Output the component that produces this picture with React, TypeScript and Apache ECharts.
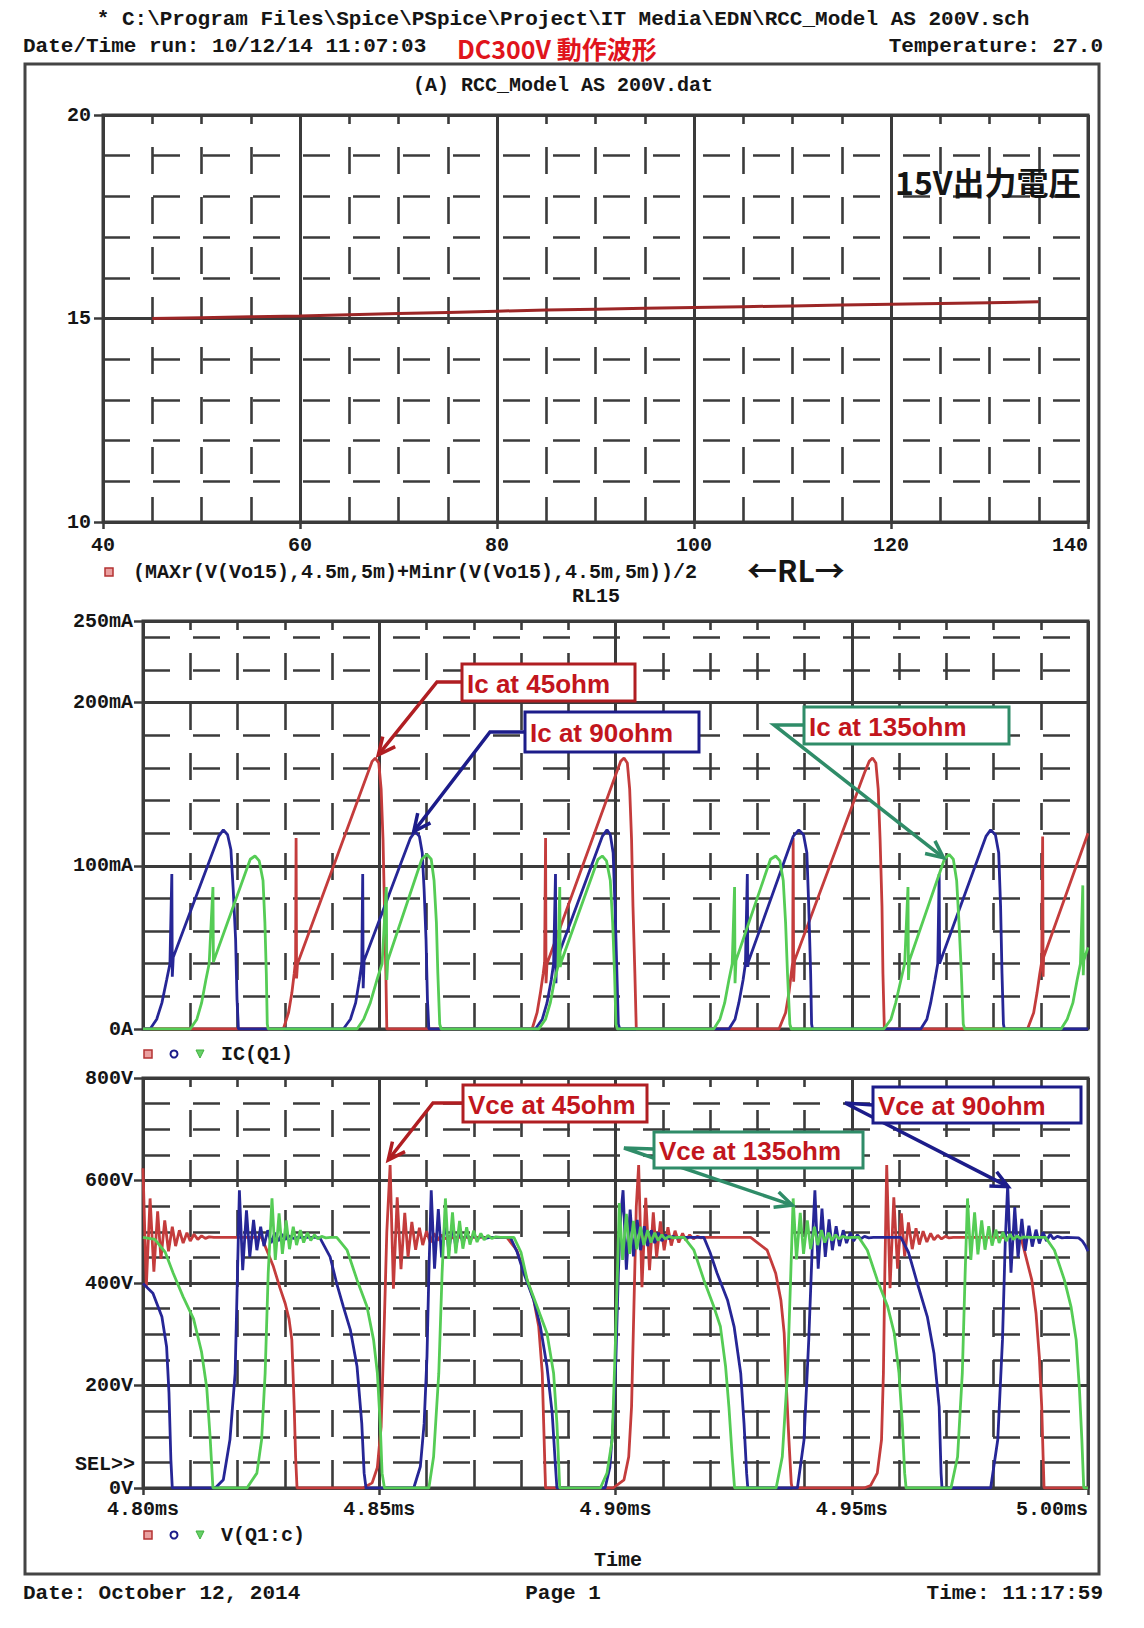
import React, { useEffect, useRef } from "react";
import * as echarts from "echarts";

// ---------------- DATA ----------------
// Panel (A): average 15 V output vs load RL15 (ohm)
const RL15_OHM = [45, 50, 55, 60, 65, 70, 75, 80, 85, 90, 95, 100, 105, 110, 115, 120, 125, 130, 135];
const VO15_AVG = [15.0, 15.02, 15.04, 15.06, 15.09, 15.12, 15.15, 15.18, 15.21, 15.23, 15.25, 15.27, 15.29, 15.31, 15.33, 15.35, 15.37, 15.39, 15.41];

// Tick labels
const RL_X_TICKS = [40, 60, 80, 100, 120, 140];
const RL_X_LABELS = ["40", "60", "80", "100", "120", "140"];
const VO_Y_TICKS = [10, 15, 20];
const VO_Y_LABELS = ["10", "15", "20"];
const IC_Y_TICKS = [0, 100, 200, 250];
const IC_Y_LABELS = ["0A", "100mA", "200mA", "250mA"];
const VCE_Y_TICKS = [0, 200, 400, 600, 800];
const VCE_Y_LABELS = ["0V", "200V", "400V", "600V", "800V"];
// time in microseconds after 4.80 ms
const TIME_X_TICKS = [0, 50, 100, 150, 200];
const TIME_X_LABELS = ["4.80ms", "4.85ms", "4.90ms", "4.95ms", "5.00ms"];

// IC(Q1) [time us after 4.80ms, mA]
const IC_45OHM = [
  [0, 0], [29.7, 0], [30.8, 10], [31.5, 22], [32.0, 34], [32.3, 42], [32.4, 117], [32.5, 31], [32.7, 40], [47.6, 157], [48.5, 164], [49.15, 166], [49.9, 163], [50.4, 147], [50.8, 116], [51.1, 75], [51.4, 34], [51.6, 0],
  [82.35, 0], [83.4, 10], [84.1, 22], [84.7, 34], [85.0, 41], [85.2, 117], [85.3, 28], [85.5, 40], [100.2, 157], [101.1, 164], [101.8, 166], [102.5, 163], [103.0, 147], [103.4, 116], [103.7, 75], [104.1, 34], [104.4, 0],
  [134.6, 0], [136.0, 10], [136.7, 22], [137.2, 34], [137.5, 41], [137.6, 117], [137.7, 29], [137.9, 42], [152.7, 157], [153.7, 164], [154.4, 166], [155.1, 163], [155.6, 147], [156.0, 116], [156.4, 75], [156.6, 34], [156.9, 0],
  [187.2, 0], [188.5, 10], [189.2, 22], [189.8, 34], [190.2, 41], [190.4, 118], [190.5, 32], [190.6, 44], [200, 120],
];
const IC_90OHM = [
  [0, 0], [1.5, 0], [2.9, 6], [4.0, 16], [5.0, 30], [5.7, 40], [6.1, 95], [6.2, 32], [6.4, 44], [16.0, 118], [17.0, 122], [17.9, 119], [18.6, 110], [19.1, 85], [19.6, 55], [19.9, 18], [20.2, 0],
  [42.4, 0], [43.9, 6], [45.0, 16], [45.8, 30], [46.3, 40], [46.5, 95], [46.6, 25], [46.8, 42], [56.6, 117], [57.6, 121], [58.5, 118], [59.1, 108], [59.5, 85], [59.9, 55], [60.2, 18], [60.5, 0],
  [83.05, 0], [84.5, 6], [85.5, 16], [86.4, 30], [86.9, 40], [87.3, 95], [87.4, 28], [87.5, 42], [97.2, 118], [98.2, 122], [98.9, 119], [99.5, 108], [99.9, 75], [100.3, 34], [100.6, 3], [100.9, 0],
  [124.0, 0], [125.3, 6], [126.1, 16], [127.0, 30], [127.5, 40], [127.9, 95], [128.0, 38], [128.1, 41], [137.6, 118], [138.8, 122], [139.8, 119], [140.5, 108], [140.9, 75], [141.3, 34], [141.5, 3], [141.7, 0],
  [164.6, 0], [165.9, 6], [166.7, 16], [167.6, 30], [168.2, 40], [168.5, 95], [168.6, 40], [168.7, 41], [178.4, 118], [179.4, 122], [180.4, 119], [181.1, 108], [181.5, 75], [181.8, 34], [182.1, 3], [182.3, 0], [200, 0],
];
const IC_135OHM = [
  [0, 0], [10.0, 0], [11.4, 6], [12.4, 16], [13.3, 30], [14.0, 40], [14.8, 87], [14.9, 41], [15.0, 42], [22.7, 104], [23.7, 106], [24.6, 103], [25.4, 91], [25.8, 65], [26.1, 34], [26.3, 3], [26.5, 0],
  [45.3, 0], [46.7, 6], [48.1, 16], [49.5, 30], [50.6, 40], [51.5, 87], [51.6, 30], [51.8, 42], [59.0, 104], [60.1, 107], [61.0, 104], [61.6, 91], [62.1, 65], [62.4, 34], [62.8, 3], [63.1, 0],
  [83.75, 0], [85.2, 6], [86.2, 16], [87.1, 30], [87.8, 38], [88.2, 87], [88.3, 38], [88.5, 41], [96.3, 104], [97.2, 106], [98.1, 103], [98.9, 91], [99.4, 65], [99.8, 34], [100.1, 3], [100.4, 0],
  [120.8, 0], [122.1, 6], [123.1, 16], [124.0, 30], [124.7, 40], [125.2, 87], [125.3, 28], [125.5, 42], [132.8, 104], [133.9, 106], [134.8, 103], [135.5, 91], [136.0, 65], [136.4, 34], [136.9, 3], [137.2, 0],
  [156.8, 0], [158.3, 6], [159.3, 16], [160.4, 30], [161.2, 40], [161.9, 87], [162.0, 30], [162.2, 42], [169.6, 104], [170.6, 107], [171.5, 104], [172.2, 91], [172.7, 65], [173.2, 34], [173.6, 3], [173.9, 0],
  [194.3, 0], [195.6, 6], [196.8, 16], [197.7, 30], [198.4, 40], [198.9, 88], [199.0, 33], [199.1, 42], [200, 50],
];

// V(Q1:c) [time us after 4.80ms, V]
const VCE_45OHM = [
  [0, 624], [0.7, 393], [1.5, 565], [2.3, 422], [3.1, 540], [3.8, 447], [4.6, 522], [5.4, 462], [6.2, 510], [6.9, 472], [7.7, 503], [8.5, 478], [9.3, 498], [10.0, 482], [10.8, 495], [11.6, 485], [12.4, 492], [13.2, 487], [14.0, 490], [15.0, 489],
  [25.1, 489], [26.2, 464], [27.6, 432], [29.0, 390], [30.1, 360], [30.9, 330], [31.5, 289], [32.0, 159], [32.3, 60], [32.6, 0],
  [46.6, 0], [48.5, 10], [49.6, 40], [50.4, 120], [51.0, 300], [51.6, 500], [52.3, 630],
  [53.0, 389], [53.8, 567], [54.6, 427], [55.4, 537], [56.1, 451], [56.9, 519], [57.7, 465], [58.5, 508], [59.2, 474], [60.0, 501], [60.8, 479], [61.6, 497], [62.3, 483], [63.1, 494], [63.9, 486], [64.7, 491], [65.5, 488], [66.5, 489],
  [77.0, 489], [79.1, 464], [81.3, 406], [82.7, 367], [83.75, 315], [84.5, 224], [84.8, 126], [85.1, 29], [85.2, 0],
  [99.5, 0], [101.8, 16], [102.8, 61], [103.4, 159], [103.9, 354], [104.4, 549], [104.9, 630],
  [105.6, 392], [106.4, 566], [107.2, 425], [108.0, 538], [108.7, 450], [109.5, 520], [110.3, 464], [111.1, 509], [111.8, 473], [112.6, 502], [113.4, 479], [114.2, 497], [114.9, 483], [115.7, 494], [116.5, 486], [117.3, 491], [118.1, 488], [119.0, 489],
  [128.6, 489], [132.1, 464], [133.9, 419], [135.0, 367], [135.7, 302], [136.2, 191], [136.7, 94], [137.2, 9], [137.4, 0],
  [152.6, 0], [154.0, 5], [155.4, 29], [156.3, 94], [156.7, 224], [157.0, 419], [157.4, 630],
  [158.1, 390], [158.9, 567], [159.7, 428], [160.5, 536], [161.2, 452], [162.0, 518], [162.8, 466], [163.6, 507], [164.3, 475], [165.1, 501], [165.9, 480], [166.7, 497], [167.4, 484], [168.2, 493], [169.0, 486], [169.8, 491], [170.6, 488], [171.5, 489],
  [185.8, 489], [186.5, 464], [188.1, 406], [189.0, 341], [189.7, 256], [190.2, 159], [190.5, 61], [190.7, 0], [200, 0],
];
const VCE_90OHM = [
  [0, 399], [2.1, 380], [4.0, 334], [5.0, 275], [5.5, 185], [5.9, 55], [6.2, 0],
  [15.3, 0], [17.0, 16], [18.4, 94], [19.5, 224], [20.0, 419], [20.4, 581],
  [21.1, 425], [21.9, 542], [22.6, 451], [23.4, 523], [24.1, 464], [24.9, 510], [25.6, 472], [26.4, 503], [27.1, 478], [27.9, 498], [28.6, 482], [29.4, 495], [30.1, 485], [30.9, 492], [31.8, 487], [32.8, 489],
  [36.8, 489], [37.5, 487], [39.6, 451], [41.0, 399], [42.4, 354], [43.9, 308], [45.3, 237], [46.3, 126], [46.8, 29], [47.2, 0],
  [57.3, 0], [58.7, 42], [59.5, 126], [60.1, 256], [60.5, 419], [61.0, 581],
  [61.7, 428], [62.5, 544], [63.2, 450], [64.0, 524], [64.7, 463], [65.5, 511], [66.2, 471], [67.0, 504], [67.7, 477], [68.5, 499], [69.2, 482], [70.0, 495], [70.7, 485], [71.5, 492], [72.4, 487], [73.4, 489],
  [77.75, 489], [79.2, 460], [80.6, 419], [82.7, 367], [84.1, 315], [85.5, 237], [86.6, 146], [87.3, 42], [87.6, 0],
  [97.8, 0], [98.8, 40], [99.5, 126], [100.1, 256], [100.6, 419], [101.1, 530], [101.6, 581],
  [102.3, 426], [103.1, 543], [103.8, 452], [104.6, 523], [105.3, 464], [106.1, 511], [106.8, 472], [107.6, 503], [108.3, 478], [109.1, 498], [109.8, 482], [110.6, 494], [111.3, 486], [112.1, 491], [113.0, 488], [114.0, 489],
  [118.7, 489], [120.0, 460], [121.5, 419], [123.7, 367], [125.1, 315], [126.5, 224], [127.2, 126], [127.75, 29], [128.0, 0],
  [138.5, 0], [139.9, 94], [140.9, 289], [141.7, 484], [142.2, 581],
  [142.9, 428], [143.7, 545], [144.4, 451], [145.2, 524], [145.9, 464], [146.7, 511], [147.4, 472], [148.2, 503], [148.9, 478], [149.7, 498], [150.4, 482], [151.2, 494], [151.9, 486], [152.7, 491], [153.6, 488], [154.6, 489],
  [160.4, 489], [162.0, 460], [163.9, 399], [166.0, 334], [167.4, 263], [168.5, 159], [168.9, 29], [169.1, 0],
  [179.4, 0], [180.9, 94], [181.9, 289], [182.5, 484], [183.0, 591],
  [183.7, 420], [184.5, 548], [185.2, 450], [186.0, 525], [186.7, 463], [187.5, 512], [188.2, 471], [189.0, 504], [189.7, 477], [190.5, 499], [191.2, 482], [192.0, 495], [192.7, 486], [193.5, 491], [194.5, 488], [195.5, 489],
  [198.0, 488], [198.8, 482], [199.5, 472], [200, 462],
];
const VCE_135OHM = [
  [0, 489], [2.5, 485], [4.7, 460], [6.4, 419], [8.5, 373], [10.7, 330], [12.4, 265], [13.5, 195], [14.2, 100], [14.8, 0],
  [22.0, 0], [24.1, 29], [25.1, 94], [25.85, 224], [26.5, 419], [27.3, 565],
  [28.0, 445], [28.8, 536], [29.5, 457], [30.3, 522], [31.0, 466], [31.8, 510], [32.5, 474], [33.3, 503], [34.0, 479], [34.8, 498], [35.5, 483], [36.3, 494], [37.0, 486], [37.8, 491], [38.7, 488], [39.7, 489],
  [41.0, 489], [43.2, 464], [45.3, 406], [47.4, 354], [48.8, 289], [49.6, 224], [50.2, 126], [50.6, 29], [51.1, 0],
  [60.5, 0], [61.5, 61], [62.6, 224], [63.3, 419], [64.0, 565],
  [64.7, 447], [65.5, 538], [66.2, 458], [67.0, 521], [67.7, 467], [68.5, 509], [69.2, 475], [70.0, 502], [70.7, 480], [71.5, 497], [72.2, 484], [73.0, 493], [73.8, 487], [74.7, 490], [75.7, 489],
  [78.5, 489], [80.0, 460], [81.3, 406], [83.4, 354], [85.5, 302], [86.9, 224], [87.6, 126], [88.2, 0],
  [96.8, 0], [98.2, 29], [99.3, 94], [100.0, 289], [100.5, 451], [100.8, 556],
  [101.5, 445], [102.3, 535], [103.0, 457], [103.8, 521], [104.5, 466], [105.3, 510], [106.0, 474], [106.8, 503], [107.5, 479], [108.3, 498], [109.0, 483], [109.8, 494], [110.5, 486], [111.3, 491], [112.2, 488], [113.2, 489],
  [114.5, 489], [116.6, 464], [118.7, 406], [120.8, 354], [122.2, 315], [123.3, 237], [124.0, 159], [124.7, 61], [125.2, 0],
  [134.0, 0], [135.3, 61], [136.4, 224], [137.1, 419], [137.6, 565],
  [138.3, 446], [139.1, 537], [139.8, 457], [140.6, 522], [141.3, 466], [142.1, 510], [142.8, 474], [143.6, 503], [144.3, 479], [145.1, 498], [145.8, 483], [146.6, 494], [147.3, 486], [148.1, 491], [149.0, 488], [150.0, 489],
  [151.5, 489], [153.3, 464], [155.4, 406], [157.6, 354], [159.0, 302], [160.0, 224], [160.7, 126], [161.2, 29], [161.5, 0],
  [171.0, 0], [172.4, 61], [173.4, 224], [174.0, 419], [174.5, 565],
  [175.2, 445], [176.0, 538], [176.7, 456], [177.5, 522], [178.2, 465], [179.0, 511], [179.7, 473], [180.5, 504], [181.2, 478], [182.0, 499], [182.7, 482], [183.5, 495], [184.2, 485], [185.0, 492], [185.7, 487], [186.5, 490], [187.5, 489],
  [191.0, 489], [192.9, 464], [195.0, 406], [196.4, 354], [197.5, 289], [198.2, 191], [198.7, 94], [199.1, 0], [200, 0],
];

// Annotations: tip in data coords (time us, value)
const ANNOTATIONS = [
  { text: "Ic at 45ohm", kind: "red", box: [462, 664, 173, 37], path: [[462, 682], [437, 682]], axis: 2, tip: [49.8, 168] },
  { text: "Ic at 90ohm", kind: "blue", box: [525, 712, 174, 40], path: [[525, 732], [490, 732]], axis: 2, tip: [57.3, 121] },
  { text: "Ic at 135ohm", kind: "green", box: [804, 707, 205, 37], path: [[804, 725], [774, 725]], axis: 2, tip: [169.4, 105] },
  { text: "Vce at 45ohm", kind: "red", box: [463, 1085, 184, 37], path: [[463, 1103], [433, 1103]], axis: 4, tip: [51.9, 640] },
  { text: "Vce at 135ohm", kind: "green", box: [654, 1132, 209, 36], path: [[654, 1149], [624, 1148]], axis: 4, tip: [137.4, 552] },
  { text: "Vce at 90ohm", kind: "blue", box: [873, 1087, 208, 36], path: [[873, 1105], [845, 1103]], axis: 4, tip: [183.1, 588] },
];

// ---------------- STYLE ----------------
const W = 1144;
const H = 1628;
const GRID_COLOR = "#3b3b3b";
const MONO = '"Liberation Mono", "DejaVu Sans Mono", monospace';
const RED = "#c43c3c";
const BLUE = "#262696";
const GREEN = "#55cc55";
const BOX_COLORS: Record<string, string> = { red: "#b01e22", blue: "#1c1c8a", green: "#2f8c68" };
const NOTE_TEXT = "#c2161d";

const fmt = (ticks: number[], labels: string[]) => (v: number) => {
  const i = ticks.findIndex((t) => Math.abs(t - v) < 1e-6);
  return i >= 0 ? labels[i] : "";
};

function majorX(gridIndex: number, min: number, max: number, interval: number, labels: null | ((v: number) => string), margin: number) {
  return {
    type: "value", gridIndex, min, max, interval, position: "bottom",
    axisLine: { show: false },
    axisTick: { show: !!labels, length: 7, lineStyle: { color: GRID_COLOR, width: 2.5 } },
    axisLabel: {
      show: !!labels, formatter: labels || undefined, margin, color: "#151515",
      fontFamily: MONO, fontWeight: "bold", fontSize: 20, alignMaxLabel: "right",
    },
    splitLine: { show: true, lineStyle: { color: GRID_COLOR, width: 3, type: "solid" } },
  };
}
function minorX(gridIndex: number, min: number, max: number, interval: number) {
  return {
    type: "value", gridIndex, min, max, interval, position: "top",
    axisLine: { show: false }, axisTick: { show: false }, axisLabel: { show: false },
    splitLine: { show: true, lineStyle: { color: GRID_COLOR, width: 2.6, type: [27, 23], dashOffset: 18 } },
  };
}
function majorY(gridIndex: number, min: number, max: number, interval: number, labels: (v: number) => string, margin: number) {
  return {
    type: "value", gridIndex, min, max, interval, position: "left",
    axisLine: { show: false },
    axisTick: { show: true, length: 9, lineStyle: { color: GRID_COLOR, width: 2.5 } },
    axisLabel: { show: true, formatter: labels, margin, color: "#151515", fontFamily: MONO, fontWeight: "bold", fontSize: 20 },
    splitLine: { show: true, lineStyle: { color: GRID_COLOR, width: 3, type: "solid" } },
  };
}
function minorY(gridIndex: number, min: number, max: number, interval: number) {
  return {
    type: "value", gridIndex, min, max, interval, position: "right",
    axisLine: { show: false }, axisTick: { show: false }, axisLabel: { show: false },
    splitLine: { show: true, lineStyle: { color: GRID_COLOR, width: 2.6, type: [27, 23], dashOffset: 0 } },
  };
}

function lineSeries(name: string, xi: number, data: number[][], color: string, width = 2.8) {
  return {
    type: "line", name, xAxisIndex: xi, yAxisIndex: xi, data,
    showSymbol: false, symbol: "none", silent: true, z: 5,
    lineStyle: { color, width }, itemStyle: { color },
  };
}

function buildOption() {
  const gridStyle = { show: true, borderColor: GRID_COLOR, borderWidth: 3, backgroundColor: "transparent", containLabel: false };
  return {
    animation: false,
    backgroundColor: "#ffffff",
    textStyle: { fontFamily: MONO },
    grid: [
      { ...gridStyle, left: 103, top: 115, width: 985, height: 407 },
      { ...gridStyle, left: 143, top: 621, width: 945, height: 408 },
      { ...gridStyle, left: 143, top: 1078, width: 945, height: 410 },
    ],
    xAxis: [
      majorX(0, 40, 140, 20, fmt(RL_X_TICKS, RL_X_LABELS), 13),
      minorX(0, 40, 140, 5),
      majorX(1, 0, 200, 50, null, 8),
      minorX(1, 0, 200, 10),
      majorX(2, 0, 200, 50, fmt(TIME_X_TICKS, TIME_X_LABELS), 11),
      minorX(2, 0, 200, 10),
    ],
    yAxis: [
      majorY(0, 10, 20, 5, fmt(VO_Y_TICKS, VO_Y_LABELS), 12),
      minorY(0, 10, 20, 1),
      majorY(1, 0, 250, 100, fmt(IC_Y_TICKS, IC_Y_LABELS), 10),
      minorY(1, 0, 250, 20),
      majorY(2, 0, 800, 200, fmt(VCE_Y_TICKS, VCE_Y_LABELS), 10),
      minorY(2, 0, 800, 50),
    ],
    series: [
      lineSeries("Vo15 avg", 0, RL15_OHM.map((r, i) => [r, VO15_AVG[i]]), "#9c2626", 3),
      lineSeries("IC 45ohm", 2, IC_45OHM, RED),
      lineSeries("IC 90ohm", 2, IC_90OHM, BLUE),
      lineSeries("IC 135ohm", 2, IC_135OHM, GREEN),
      lineSeries("Vce 45ohm", 4, VCE_45OHM, RED),
      lineSeries("Vce 90ohm", 4, VCE_90OHM, BLUE),
      lineSeries("Vce 135ohm", 4, VCE_135OHM, GREEN),
    ],
  };
}

function txt(text: string, x: number, y: number, font: string, align = "left", fill = "#151515") {
  return { type: "text", silent: true, z: 50, style: { text, x, y, font, fill, textAlign: align, textVerticalAlign: "middle" } };
}

function legendMarkers(y: number) {
  return [
    { type: "rect", silent: true, z: 50, shape: { x: 144, y: y - 4, width: 8, height: 8 }, style: { fill: "#eaa0a0", stroke: "#b43232", lineWidth: 1.5 } },
    { type: "circle", silent: true, z: 50, shape: { cx: 174, cy: y, r: 3.5 }, style: { fill: "none", stroke: "#1c1c8a", lineWidth: 2 } },
    { type: "polygon", silent: true, z: 50, shape: { points: [[196, y - 4], [204, y - 4], [200, y + 4]] }, style: { fill: "#66d066", stroke: "#40b040", lineWidth: 1 } },
  ];
}

function buildGraphics(chart: any) {
  const B = `bold 21px ${MONO}`;
  const B20 = `bold 20px ${MONO}`;
  const els: any[] = [
    { type: "rect", silent: true, z: 40, shape: { x: 25, y: 64, width: 1074, height: 1510 }, style: { fill: "none", stroke: "#444", lineWidth: 3 } },
    txt("* C:\\Program Files\\Spice\\PSpice\\Project\\IT Media\\EDN\\RCC_Model AS 200V.sch", 563, 19, B, "center"),
    txt("Date/Time run: 10/12/14 11:07:03", 23, 46, B),
    txt("DC300V 動作波形", 457, 48, 'bold 25px "Noto Sans CJK JP", sans-serif', "left", "#e0141c"),
    txt("Temperature: 27.0", 1103, 46, B, "right"),
    txt("(A) RCC_Model AS 200V.dat", 563, 85, B20, "center"),
    txt("15V出力電圧", 895, 181, 'bold 32px "Noto Sans CJK JP", sans-serif'),
    { type: "rect", silent: true, z: 50, shape: { x: 105, y: 568, width: 8, height: 8 }, style: { fill: "#eaa0a0", stroke: "#b43232", lineWidth: 1.5 } },
    txt("(MAXr(V(Vo15),4.5m,5m)+Minr(V(Vo15),4.5m,5m))/2", 133, 572, B20),
    txt("←RL→", 747, 569, 'bold 30px "Noto Sans CJK JP", sans-serif'),
    txt("RL15", 596, 596, B20, "center"),
    ...legendMarkers(1054),
    txt("IC(Q1)", 221, 1054, B20),
    ...legendMarkers(1535),
    txt("V(Q1:c)", 221, 1535, B20),
    txt("Time", 618, 1560, B20, "center"),
    txt("SEL>>", 135, 1464, B20, "right"),
    txt("Date: October 12, 2014", 23, 1593, B),
    txt("Page 1", 563, 1593, B, "center"),
    txt("Time: 11:17:59", 1103, 1593, B, "right"),
  ];

  ANNOTATIONS.forEach((a) => {
    const color = BOX_COLORS[a.kind];
    const [bx, by, bw, bh] = a.box;
    const tip = chart.convertToPixel({ xAxisIndex: a.axis, yAxisIndex: a.axis }, a.tip) as number[];
    const pts = [...a.path, tip];
    const prev = pts[pts.length - 2];
    const dx = tip[0] - prev[0];
    const dy = tip[1] - prev[1];
    const len = Math.hypot(dx, dy) || 1;
    const ux = dx / len, uy = dy / len;
    const L = 17, Wd = 8;
    const arm1 = [tip[0] - ux * L - uy * Wd, tip[1] - uy * L + ux * Wd];
    const arm2 = [tip[0] - ux * L + uy * Wd, tip[1] - uy * L - ux * Wd];
    els.push({ type: "polyline", silent: true, z: 60, shape: { points: pts }, style: { stroke: color, lineWidth: 3.5, fill: null } });
    els.push({ type: "polyline", silent: true, z: 60, shape: { points: [arm1, tip, arm2] }, style: { stroke: color, lineWidth: 3.5, fill: null } });
    els.push({ type: "rect", silent: true, z: 61, shape: { x: bx, y: by, width: bw, height: bh }, style: { fill: "#ffffff", stroke: color, lineWidth: 3 } });
    els.push({ type: "text", silent: true, z: 62, style: { text: a.text, x: bx + 5, y: by + bh / 2 + 1, font: 'bold 26px "Liberation Sans", Arial, sans-serif', fill: NOTE_TEXT, textAlign: "left", textVerticalAlign: "middle" } });
  });
  return els;
}

export default function App() {
  const ref = useRef<HTMLDivElement>(null);
  useEffect(() => {
    document.body.style.margin = "0";
    const chart = echarts.init(ref.current as HTMLDivElement, null, { renderer: "svg" });
    chart.setOption(buildOption() as any);
    chart.setOption({ graphic: buildGraphics(chart) } as any);
    return () => chart.dispose();
  }, []);
  return <div ref={ref} style={{ position: "absolute", left: 0, top: 0, width: W, height: H, background: "#fff" }} />;
}
